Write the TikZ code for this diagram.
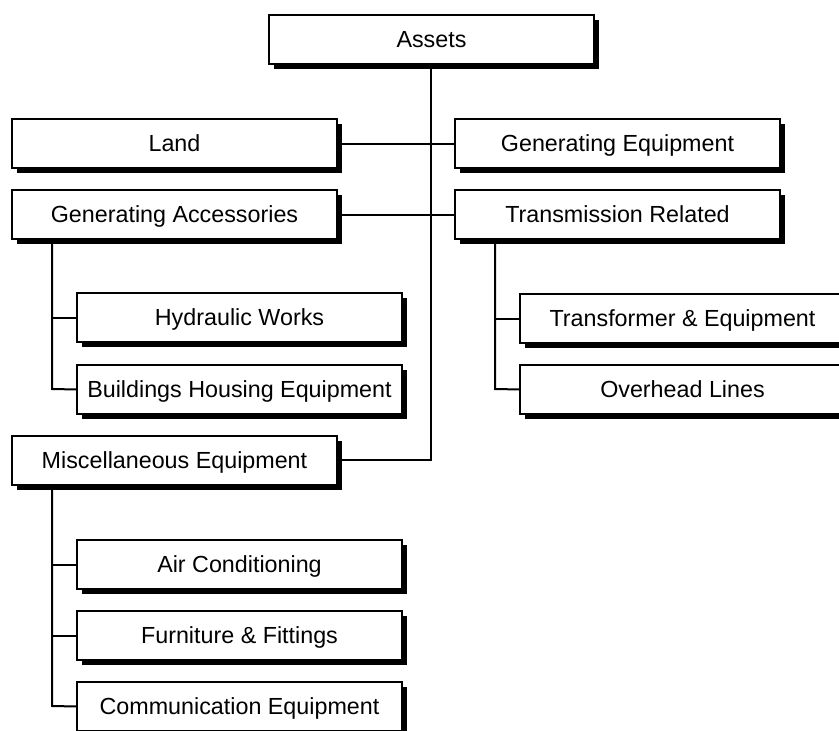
\documentclass[tikz,border=0pt]{standalone}
\usepackage{fontspec}
\setmainfont{Liberation Sans}
\usetikzlibrary{shadows}
\begin{document}
\begin{tikzpicture}[x=1pt,y=-1pt,
  box/.style={draw=black, fill=white, line width=1.7pt, anchor=north west,
    minimum width=325pt, minimum height=49pt, inner sep=0pt, outer sep=0pt,
    text height=16.7pt, text depth=0pt,
    font=\fontsize{23.3}{28}\selectfont,
    drop shadow={shadow xshift=5pt, shadow yshift=-5pt, fill=black, opacity=1}},
  conn/.style={draw=black, line width=2pt}]
\path[use as bounding box, clip] (0,0) rectangle (839,731);
\fill[white] (0,0) rectangle (839,731);
% boxes
\node[box] (assets) at (269,15) {Assets};
\node[box] (land) at (12,119) {Land};
\node[box] (geneq) at (455,119) {Generating Equipment};
\node[box] (genacc) at (12,190) {Generating Accessories};
\node[box] (trans) at (455,190) {Transmission Related};
\node[box] (hyd) at (77,293) {Hydraulic Works};
\node[box] (bld) at (77,365) {Buildings Housing Equipment};
\node[box] (treq) at (520,294) {Transformer \& Equipment};
\node[box] (ovh) at (520,365) {Overhead Lines};
\node[box] (misc) at (12,436) {Miscellaneous Equipment};
\node[box] (air) at (77,540) {Air Conditioning};
\node[box] (fur) at (77,611) {Furniture \& Fittings};
\node[box] (com) at (77,682) {Communication Equipment};
% junction coordinates
\coordinate (tbot) at (431,459.5);
\coordinate (ga) at (52,389);
\coordinate (tr) at (495,389);
\coordinate (mi) at (52,706);
% trunk
\draw[conn] (assets.south -| tbot) -- (tbot) -- (misc.east |- tbot);
\draw[conn] (land.east) -- (geneq.west);
\draw[conn] (genacc.east) -- (trans.west);
% generating accessories branch
\draw[conn] (genacc.south -| ga) -- (ga) -- (bld.west);
\draw[conn] (hyd.west) -- (hyd.west -| ga);
% transmission branch
\draw[conn] (trans.south -| tr) -- (tr) -- (ovh.west);
\draw[conn] (treq.west) -- (treq.west -| tr);
% miscellaneous branch
\draw[conn] (misc.south -| mi) -- (mi) -- (com.west);
\draw[conn] (air.west) -- (air.west -| mi);
\draw[conn] (fur.west) -- (fur.west -| mi);
\end{tikzpicture}
\end{document}
